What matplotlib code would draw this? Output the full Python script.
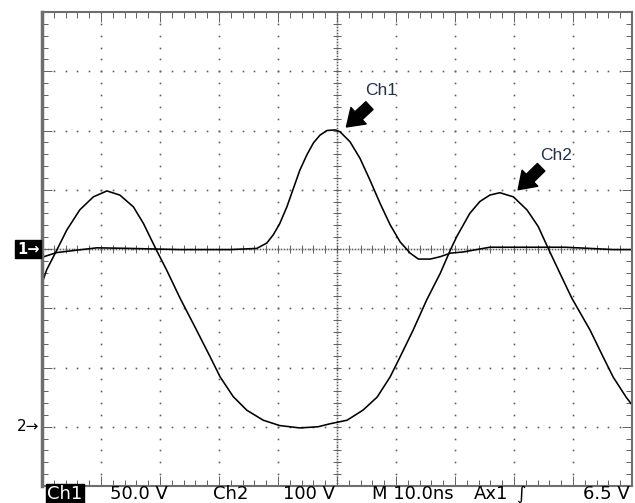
import numpy as np
import matplotlib.pyplot as plt

# Ch1 trace (time in divisions, level in divisions from screen centre)
ch1_t = [0.0, 0.25, 0.59, 0.93, 1.49, 2.34, 3.19, 3.64, 3.81, 3.92, 4.03, 4.15,
         4.26, 4.37, 4.49, 4.60, 4.71, 4.83, 4.97, 5.05, 5.22, 5.39, 5.56, 5.73,
         5.90, 6.07, 6.24, 6.38, 6.58, 6.75, 6.92, 7.14, 7.59, 8.10, 8.86, 9.29,
         9.68, 10.0]
ch1_v = [-0.14, -0.06, -0.02, 0.02, 0.01, -0.01, -0.01, 0.01, 0.10, 0.24, 0.43, 0.71,
         1.02, 1.33, 1.59, 1.79, 1.92, 2.00, 2.01, 1.98, 1.81, 1.53, 1.16, 0.77,
         0.41, 0.12, -0.07, -0.17, -0.17, -0.13, -0.07, -0.05, 0.03, 0.03, 0.03, 0.01,
         -0.01, -0.01]

# Ch2 trace
ch2_t = [0.0, 0.08, 0.25, 0.42, 0.64, 0.87, 1.10, 1.32, 1.55, 1.72, 1.94, 2.11,
         2.34, 2.62, 2.85, 3.02, 3.24, 3.47, 3.75, 4.03, 4.37, 4.68, 4.88, 5.17,
         5.44, 5.68, 5.90, 6.07, 6.29, 6.52, 6.75, 6.92, 7.03, 7.25, 7.42, 7.59,
         7.76, 7.99, 8.22, 8.41, 8.58, 8.75, 8.98, 9.29, 9.51, 9.68, 9.90, 10.0]
ch2_v = [-0.58, -0.35, -0.02, 0.32, 0.66, 0.88, 0.98, 0.91, 0.71, 0.43, -0.02, -0.35,
         -0.83, -1.37, -1.82, -2.16, -2.49, -2.72, -2.89, -2.98, -3.02, -3.00, -2.95, -2.89,
         -2.72, -2.50, -2.16, -1.82, -1.37, -0.86, -0.41, -0.02, 0.21, 0.60, 0.80, 0.91,
         0.95, 0.88, 0.66, 0.38, 0.01, -0.35, -0.83, -1.37, -1.82, -2.16, -2.50, -2.63]

ch1_ground = 0.0
ch2_ground = -3.0

status_labels = ['50.0 V', 'Ch2', '100 V', 'M 10.0ns', 'Ax1', '\u222b', '6.5 V']
status_x = [110, 213, 283, 372, 474, 516, 583]

fig = plt.figure(figsize=(6.35, 5.03), dpi=100)
ax = fig.add_axes([42 / 635, 17 / 503, 590 / 635, 474 / 503])
ax.set_xlim(0, 10)
ax.set_ylim(-4, 4)

dot = dict(ls='none', marker='s', ms=1.2, mew=0, color='#606060')
# dotted graticule
for gx in range(1, 10):
    ys = np.arange(-4, 4.001, 0.2)
    ax.plot(np.full_like(ys, gx), ys, **dot)
for gy in range(-3, 4):
    xs = np.arange(0, 10.001, 0.2)
    ax.plot(xs, np.full_like(xs, gy), **dot)

# centre cross, finer
xs = np.arange(0, 10.001, 0.05)
ax.plot(xs, np.zeros_like(xs), **dot)
ys = np.arange(-4, 4.001, 0.05)
ax.plot(np.full_like(ys, 5), ys, **dot)
tx = np.arange(0, 10.001, 0.2)
ax.vlines(tx, -0.06, 0.06, color='#606060', lw=0.7)
ty = np.arange(-4, 4.001, 0.2)
ax.hlines(ty, 4.94, 5.06, color='#606060', lw=0.7)

# border ticks
ax.set_xticks(range(0, 11))
ax.set_yticks(range(-4, 5))
ax.set_xticks(np.arange(0, 10.001, 0.2), minor=True)
ax.set_yticks(np.arange(-4, 4.001, 0.2), minor=True)
ax.tick_params(which='both', direction='in', top=True, right=True,
               labelbottom=False, labelleft=False, color='#606060')
ax.tick_params(which='major', length=7, width=0.7)
ax.tick_params(which='minor', length=4, width=0.7)

for side in ['top', 'bottom', 'right']:
    ax.spines[side].set_color('#6e6e6e')
    ax.spines[side].set_linewidth(1.5)
ax.spines['left'].set_color('#6e6e6e')
ax.spines['left'].set_linewidth(2.5)

# traces
ax.plot(ch1_t, ch1_v, color='black', lw=1.15, solid_joinstyle='round')
ax.plot(ch2_t, ch2_v, color='black', lw=1.15, solid_joinstyle='round')

# channel labels with arrows
lab_font = ['Liberation Sans', 'DejaVu Sans']
arrow = dict(arrowstyle='simple,head_length=0.7,head_width=0.95,tail_width=0.45',
             color='black', mutation_scale=17, shrinkA=0, shrinkB=0)
ax.annotate('', xy=(5.16, 2.06), xytext=(5.55, 2.42), arrowprops=arrow)
ax.text(5.75, 2.68, 'Ch1', ha='center', va='center', fontsize=12.5,
        family=lab_font, color='#22304a')
ax.annotate('', xy=(8.07, 1.00), xytext=(8.46, 1.38), arrowprops=arrow)
ax.text(8.71, 1.57, 'Ch2', ha='center', va='center', fontsize=12.5,
        family=lab_font, color='#22304a')

# ground markers
trans = ax.get_yaxis_transform()
ax.text(-0.004, ch1_ground, '1\u2192', transform=trans, ha='right', va='center',
        fontsize=10.5, color='white', fontweight='bold', family=['DejaVu Sans'],
        bbox=dict(boxstyle='square,pad=0.12', fc='black', ec='black'), clip_on=False)
ax.text(-0.004, ch2_ground, '2\u2192', transform=trans, ha='right', va='center',
        fontsize=11, color='black', family=['DejaVu Sans'], clip_on=False)

# status line
stat_font = ['Liberation Sans Narrow', 'DejaVu Sans']
y_stat = 9 / 503
fig.text(47 / 635, y_stat, 'Ch1', ha='left', va='center', fontsize=13, color='white',
         family=stat_font, bbox=dict(boxstyle='square,pad=0.08', fc='black', ec='black'))
for lab, px in zip(status_labels, status_x):
    fig.text(px / 635, y_stat, lab, ha='left', va='center', fontsize=13,
             color='black', family=stat_font)

fig.savefig('out.png', dpi=100)
